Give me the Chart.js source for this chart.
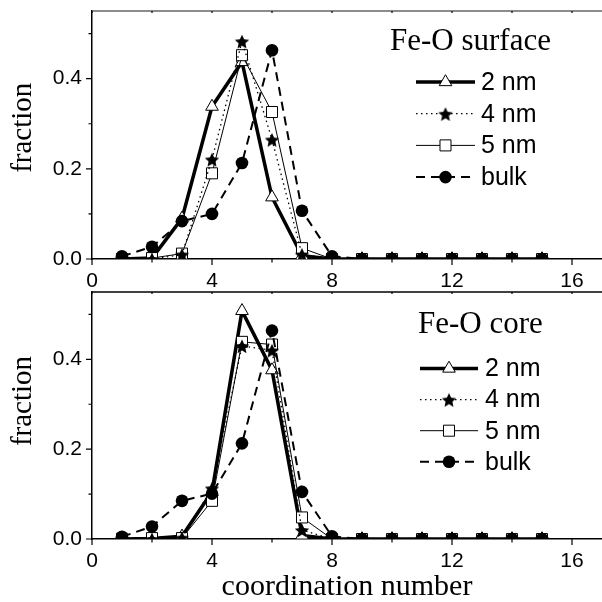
<!DOCTYPE html>
<html>
<head>
<meta charset="utf-8">
<script src="https://cdn.jsdelivr.net/npm/chart.js@4.4.1/dist/chart.umd.min.js"></script>
<style>
  html, body { margin: 0; padding: 0; background: #fff; }
  #surface { position: absolute; left: 0; top: 0; }
  #core { position: absolute; left: 0; top: 290px; }
</style>
</head>
<body>
<canvas id="surface" width="602" height="290"></canvas>
<canvas id="core" width="602" height="312"></canvas>
<script>
// coordination numbers on the x axis
const coord = [1, 2, 3, 4, 5, 6, 7, 8, 9, 10, 11, 12, 13, 14, 15];
const xTickLabels = [0, 4, 8, 12, 16];
const yTickLabels = [0, 0.2, 0.4];
const seriesNames = ['2 nm', '4 nm', '5 nm', 'bulk'];

// Fe-O surface
const surf2nm  = [0, 0.002, 0.09, 0.338, 0.437, 0.137, 0.007, 0, 0, 0, 0, 0, 0, 0, 0];
const surf4nm  = [0, 0, 0.01, 0.221, 0.483, 0.265, 0.01, 0, 0, 0, 0, 0, 0, 0, 0];
const surf5nm  = [0, 0.002, 0.012, 0.19, 0.452, 0.326, 0.024, 0, 0, 0, 0, 0, 0, 0, 0];
const surfBulk = [0.006, 0.027, 0.084, 0.1, 0.213, 0.463, 0.107, 0.006, 0, 0, 0, 0, 0, 0, 0];

// Fe-O core
const core2nm  = [0, 0.001, 0.006, 0.105, 0.508, 0.376, 0.008, 0, 0, 0, 0, 0, 0, 0, 0];
const core4nm  = [0, 0, 0.003, 0.113, 0.43, 0.42, 0.02, 0, 0, 0, 0, 0, 0, 0, 0];
const core5nm  = [0, 0.002, 0.002, 0.085, 0.439, 0.433, 0.048, 0, 0, 0, 0, 0, 0, 0, 0];
const coreBulk = [0.005, 0.028, 0.085, 0.101, 0.213, 0.464, 0.105, 0.006, 0, 0, 0, 0, 0, 0, 0];

Chart.defaults.color = '#000';
Chart.defaults.font.family = '"Liberation Sans", Arial, sans-serif';

// filled five-pointed star used as a point style
function starImage(r) {
  const c = document.createElement('canvas');
  const s = Math.ceil(r * 2 + 2);
  c.width = c.height = s;
  const g = c.getContext('2d');
  g.beginPath();
  for (let i = 0; i < 10; i++) {
    const rr = i % 2 ? r * 0.47 : r;
    const a = -Math.PI / 2 + i * Math.PI / 5;
    g.lineTo(s / 2 + rr * Math.cos(a), s / 2 + 1 + rr * Math.sin(a));
  }
  g.closePath();
  g.fillStyle = '#000';
  g.fill();
  return c;
}
const star = starImage(7.6);

const pts = vals => coord.map((x, i) => ({ x: x, y: vals[i] }));

function makeSets(v2, v4, v5, vb) {
  return [
    { label: seriesNames[0], data: pts(v2), borderColor: '#000', borderWidth: 3.5,
      pointStyle: 'triangle', pointRadius: 7.3, pointBackgroundColor: '#fff',
      pointBorderColor: '#000', pointBorderWidth: 1, order: 4 },
    { label: seriesNames[1], data: pts(v4), borderColor: '#000', borderWidth: 1.3,
      borderDash: [1.5, 3.5], pointStyle: star, pointRadius: 7, order: 1 },
    { label: seriesNames[2], data: pts(v5), borderColor: '#000', borderWidth: 1,
      pointStyle: 'rect', pointRadius: 7.8, pointBackgroundColor: '#fff',
      pointBorderColor: '#000', pointBorderWidth: 1, order: 3 },
    { label: seriesNames[3], data: pts(vb), borderColor: '#000', borderWidth: 2,
      borderDash: [9, 6], pointStyle: 'circle', pointRadius: 6.3,
      pointBackgroundColor: '#000', pointBorderColor: '#000', pointBorderWidth: 0, order: 2 }
  ];
}

// outward ticks on left/bottom, tiny inward ticks and a grey line on top
const frameTicks = {
  id: 'frameTicks',
  afterDraw(chart, args, opts) {
    const { ctx, chartArea: a, scales: { x, y } } = chart;
    ctx.save();
    ctx.strokeStyle = opts.topColor;
    ctx.lineWidth = 1.5;
    ctx.beginPath();
    ctx.moveTo(a.left, a.top);
    ctx.lineTo(a.right, a.top);
    ctx.stroke();
    ctx.strokeStyle = '#000';
    ctx.lineWidth = 1.2;
    ctx.beginPath();
    x.ticks.forEach(t => {
      if (t.value % 2 !== 0) return;
      const px = x.getPixelForValue(t.value);
      const len = t.value % 4 === 0 ? 6 : 3.5;
      ctx.moveTo(px, a.bottom);
      ctx.lineTo(px, a.bottom + len);
      ctx.moveTo(px, a.top);
      ctx.lineTo(px, a.top + 2);
    });
    y.ticks.forEach(t => {
      const k = Math.round(t.value * 10);
      if (Math.abs(k - t.value * 10) > 1e-6) return;
      const py = y.getPixelForValue(t.value);
      const len = k % 2 === 0 ? 6 : 3.5;
      ctx.moveTo(a.left, py);
      ctx.lineTo(a.left - len, py);
    });
    ctx.stroke();
    ctx.restore();
  }
};

// legend with line sample and marker in the middle, plus a title
const keyPlugin = {
  id: 'key',
  afterDatasetsDraw(chart, args, opts) {
    const ctx = chart.ctx;
    ctx.save();
    ctx.fillStyle = '#000';
    ctx.font = '31px "Liberation Serif", "Times New Roman", serif';
    ctx.textBaseline = 'alphabetic';
    ctx.textAlign = 'left';
    ctx.fillText(opts.title, opts.titleX, opts.titleY);
    ctx.font = '25px "Liberation Sans", Arial, sans-serif';
    ctx.textBaseline = 'middle';
    chart.data.datasets.forEach((ds, i) => {
      const y = opts.rowY + i * opts.rowGap;
      ctx.save();
      ctx.strokeStyle = ds.borderColor;
      ctx.lineWidth = ds.borderWidth;
      ctx.setLineDash(ds.borderDash || []);
      ctx.beginPath();
      ctx.moveTo(opts.lineX0, y);
      ctx.lineTo(opts.lineX1, y);
      ctx.stroke();
      ctx.setLineDash([]);
      ctx.fillStyle = ds.pointBackgroundColor || '#000';
      ctx.strokeStyle = ds.pointBorderColor || '#000';
      ctx.lineWidth = ds.pointBorderWidth || 0;
      Chart.helpers.drawPoint(ctx, {
        pointStyle: ds.pointStyle, radius: ds.pointRadius,
        borderWidth: ds.pointBorderWidth || 0, rotation: 0
      }, (opts.lineX0 + opts.lineX1) / 2, y);
      ctx.restore();
      ctx.fillText(ds.label, opts.textX, y + 1);
    });
    ctx.restore();
  }
};

function makeOptions(cfg) {
  return {
    responsive: false,
    animation: false,
    events: [],
    layout: { autoPadding: false, padding: { top: cfg.padTop, left: 0, right: 0, bottom: 0 } },
    elements: { line: { tension: 0 } },
    scales: {
      x: {
        type: 'linear', min: 0, max: 17,
        grid: { display: false, drawTicks: false },
        border: { display: true, color: '#000', width: 1.5 },
        ticks: {
          stepSize: 2, padding: 10, maxRotation: 0, autoSkip: false, includeBounds: false,
          font: { size: 21 },
          callback: v => xTickLabels.includes(v) ? String(v) : ''
        },
        title: {
          display: cfg.xTitle !== '', text: cfg.xTitle,
          font: { family: '"Liberation Serif", "Times New Roman", serif', size: 30, lineHeight: 1 },
          padding: { top: 0, bottom: 0 }
        },
        afterFit: s => { s.height = cfg.xHeight; s.paddingLeft = 0; s.paddingRight = 0; }
      },
      y: {
        min: 0, max: 0.55,
        grid: { display: false, drawTicks: false },
        border: { display: true, color: '#000', width: 1.5 },
        ticks: {
          stepSize: 0.1, padding: 10, autoSkip: false, includeBounds: false,
          font: { size: 21 },
          callback: v => {
            const t = yTickLabels.find(l => Math.abs(l - v) < 1e-6);
            return t === undefined ? '' : t.toFixed(1);
          }
        },
        title: {
          display: true, text: cfg.yTitle,
          font: { family: '"Liberation Serif", "Times New Roman", serif', size: 29, lineHeight: 1 },
          padding: { top: 9, bottom: 0 }
        },
        afterFit: s => { s.width = 92; s.paddingTop = 0; s.paddingBottom = 0; }
      }
    },
    plugins: {
      legend: { display: false },
      tooltip: { enabled: false },
      frameTicks: { topColor: cfg.topColor },
      key: cfg.key
    }
  };
}

new Chart(document.getElementById('surface'), {
  type: 'line',
  data: { datasets: makeSets(surf2nm, surf4nm, surf5nm, surfBulk) },
  options: makeOptions({
    padTop: 11, xHeight: 31, xTitle: '', yTitle: '  fraction', topColor: '#666',
    key: { title: 'Fe-O surface', titleX: 390, titleY: 50, rowY: 82, rowGap: 31.7,
           lineX0: 416, lineX1: 475, textX: 481 }
  }),
  plugins: [frameTicks, keyPlugin]
});

new Chart(document.getElementById('core'), {
  type: 'line',
  data: { datasets: makeSets(core2nm, core4nm, core5nm, coreBulk) },
  options: makeOptions({
    padTop: 2, xHeight: 63, xTitle: 'coordination number', yTitle: '    fraction', topColor: '#000',
    key: { title: 'Fe-O core', titleX: 418, titleY: 43, rowY: 78.5, rowGap: 31.1,
           lineX0: 420, lineX1: 478, textX: 485 }
  }),
  plugins: [frameTicks, keyPlugin]
});
</script>
</body>
</html>
